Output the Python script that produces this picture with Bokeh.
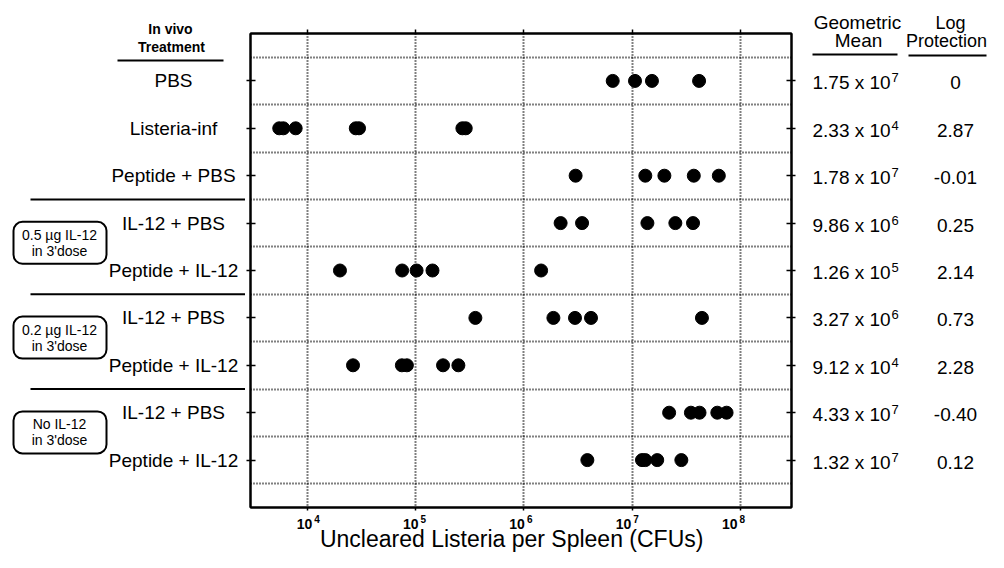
from bokeh.plotting import figure
from bokeh.models import (Range1d, FixedTicker, LinearAxis, LogAxis,
                          BoxAnnotation, ColumnDataSource)
from bokeh.layouts import row, column
from bokeh.core.properties import value
from bokeh.embed import file_html
from bokeh.resources import INLINE

# ---------------- data ----------------
treatments = ["PBS", "Listeria-inf", "Peptide + PBS",
              "IL-12 + PBS", "Peptide + IL-12",
              "IL-12 + PBS", "Peptide + IL-12",
              "IL-12 + PBS", "Peptide + IL-12"]

cfu_pbs = [6.6e6, 1.06e7, 1.52e7, 4.14e7]
cfu_listeria_inf = [5.5e3, 6.0e3, 7.8e3, 2.8e4, 3.0e4, 2.7e5, 2.9e5]
cfu_peptide_pbs = [3.0e6, 1.32e7, 1.98e7, 3.7e7, 6.3e7]
cfu_il12_pbs_05 = [2.18e6, 3.44e6, 1.38e7, 2.5e7, 3.64e7]
cfu_peptide_il12_05 = [2.0e4, 7.5e4, 1.02e5, 1.43e5, 1.44e6]
cfu_il12_pbs_02 = [3.56e5, 1.87e6, 2.96e6, 4.16e6, 4.4e7]
cfu_peptide_il12_02 = [2.64e4, 7.46e4, 8.3e4, 1.79e5, 2.48e5]
cfu_il12_pbs_no = [2.19e7, 3.48e7, 4.18e7, 6.1e7, 7.43e7]
cfu_peptide_il12_no = [3.85e6, 1.23e7, 1.32e7, 1.7e7, 2.84e7]

series = [cfu_pbs, cfu_listeria_inf, cfu_peptide_pbs,
          cfu_il12_pbs_05, cfu_peptide_il12_05,
          cfu_il12_pbs_02, cfu_peptide_il12_02,
          cfu_il12_pbs_no, cfu_peptide_il12_no]

geo_mantissa = ["1.75", "2.33", "1.78", "9.86", "1.26", "3.27", "9.12", "4.33", "1.32"]
geo_exponent = ["7", "4", "7", "6", "5", "6", "4", "7", "7"]
log_protection = ["0", "2.87", "-0.01", "0.25", "2.14", "0.73", "2.28", "-0.40", "0.12"]

group_box_line1 = ["0.5 µg IL-12", "0.2 µg IL-12", "No IL-12"]
group_box_line2 = ["in 3'dose", "in 3'dose", "in 3'dose"]
group_first_row = [4, 6, 8]

x_ticks = [1e4, 1e5, 1e6, 1e7, 1e8]
x_tick_exponents = ["4", "5", "6", "7", "8"]
x_title = "Uncleared Listeria per Spleen (CFUs)"
left_header = ["In vivo", "Treatment"]
mean_header = ["Geometric", "Mean"]
prot_header = ["Log", "Protection"]

# ---------------- layout (canvas pixels) ----------------
W, H = 988, 552
FL, FR, FT, FB = 250, 791, 33, 507      # plot frame
BL, BR, BB = 5, 5, 5                    # main plot borders (axis ticks)
LW = FL - BL                            # left panel width
RX = FR + BR                            # right panel start
DEC = 108.3
XL = 3.475
XR = XL + (FR - FL) / DEC
ROW = (FB - FT) / 10.0
FONT = "Liberation Sans"


def dx(cx):
    return 10 ** (XL + (cx - FL) / DEC)


def dy(cy):
    return (cy - FT) / ROW


rows = list(range(1, len(treatments) + 1))

# ---------------- main plot ----------------
xs, ys = [], []
for i, vals in enumerate(series):
    xs.extend(vals)
    ys.extend([rows[i]] * len(vals))
src = ColumnDataSource(dict(x=xs, y=ys))

p = figure(width=RX - LW, height=FB + BB, x_axis_type="log",
           x_range=Range1d(10 ** XL, 10 ** XR), y_range=Range1d(10, 0),
           output_backend="svg", toolbar_location=None,
           min_border_left=BL, min_border_right=BR,
           min_border_top=FT, min_border_bottom=BB)
p.background_fill_color = "white"
p.border_fill_color = "white"
p.outline_line_color = "black"
p.outline_line_width = 2


def style_axis(ax, tin, tout):
    ax.axis_line_color = "black"
    ax.axis_line_width = 2
    ax.major_tick_line_color = "black"
    ax.major_tick_line_width = 1.5
    ax.major_tick_in = tin
    ax.major_tick_out = tout
    ax.minor_tick_line_color = None
    ax.major_label_text_font_size = "1px"
    ax.major_label_text_color = None
    ax.major_label_standoff = 0


p.xaxis.ticker = FixedTicker(ticks=x_ticks)
style_axis(p.xaxis[0], 0, 3)
p.yaxis.ticker = FixedTicker(ticks=rows)
style_axis(p.yaxis[0], 5, 4)
right_ax = LinearAxis(ticker=FixedTicker(ticks=rows))
style_axis(right_ax, 5, 4)
p.add_layout(right_ax, "right")
top_ax = LogAxis(ticker=FixedTicker(ticks=x_ticks))
style_axis(top_ax, 0, 4)
p.add_layout(top_ax, "above")

for g in (p.xgrid, p.ygrid):
    g.grid_line_color = "black"
    g.grid_line_width = 2
    g.grid_line_dash = "1 2"
p.ygrid.ticker = FixedTicker(ticks=[r + 0.5 for r in range(0, 10)])

p.scatter("x", "y", source=src, size=13, color="black")


# ---------------- helper panels ----------------
def panel(x0, x1):
    f = figure(width=int(x1 - x0), height=H, x_range=Range1d(x0, x1),
               y_range=Range1d(dy(H), dy(0)), output_backend="svg",
               toolbar_location=None, x_axis_location=None,
               y_axis_location=None, min_border=0)
    f.outline_line_color = None
    f.grid.visible = False
    f.background_fill_color = "white"
    f.border_fill_color = "white"
    return f


def txt(f, x, y, t, size, align="center", bold=False):
    f.text(x=x, y=y, text=t, text_font=value(FONT),
           text_font_size=value(f"{size}px"), text_align=align,
           text_baseline="middle", text_color="black",
           text_font_style="bold" if bold else "normal")


def seg(f, x0, x1, y, w=2):
    f.segment(x0=[x0], y0=[y], x1=[x1], y1=[y], line_width=w,
              line_color="black")


# left panel
left = panel(0, LW)
txt(left, [170, 171], [dy(28), dy(46)], left_header, 14, bold=True)
seg(left, 117, 223, dy(60))
txt(left, [173] * len(rows), rows, treatments, 19)
for g, l1, l2 in zip(group_first_row, group_box_line1, group_box_line2):
    seg(left, 30, LW, g - 0.5)
    yc = FT + (g + 0.5) * ROW - 4
    left.add_layout(BoxAnnotation(left=13, right=106,
                                  top=dy(yc - 21), bottom=dy(yc + 21),
                                  fill_alpha=0, line_color="black",
                                  line_alpha=1, line_width=2,
                                  border_radius=9))
    txt(left, [59, 59], [dy(yc - 8), dy(yc + 8)], [l1, l2], 14)

# right panel
right = panel(RX, W)
txt(right, [857, 858], [dy(22), dy(40)], mean_header, 19)
seg(right, 812, 897, dy(54))
txt(right, [950, 946], [dy(22), dy(40)], prot_header, 18)
seg(right, 908, 986, dy(55))
txt(right, [812] * len(rows), [r + 2 / ROW for r in rows],
    [m + " x 10" for m in geo_mantissa], 19, align="left")
txt(right, [891] * len(rows), [r - 3 / ROW for r in rows],
    geo_exponent, 13, align="left")
txt(right, [955] * len(rows), [r + 2 / ROW for r in rows],
    log_protection, 19)

# bottom panel (tick labels and axis title on the same log scale)
BT = FB + BB
bottom = figure(width=RX - LW, height=H - BT, x_axis_type="log",
                x_range=Range1d(dx(LW), dx(RX)), y_range=Range1d(H, BT),
                output_backend="svg", toolbar_location=None,
                x_axis_location=None, y_axis_location=None, min_border=0)
bottom.outline_line_color = None
bottom.grid.visible = False
bottom.background_fill_color = "white"
bottom.border_fill_color = "white"
bottom.text(x=x_ticks, y=[523] * len(x_ticks), text=["10"] * len(x_ticks),
            x_offset=1, text_font=value(FONT), text_font_size=value("14px"),
            text_font_style="bold", text_align="right",
            text_baseline="middle", text_color="black")
bottom.text(x=x_ticks, y=[518.5] * len(x_ticks), text=x_tick_exponents,
            x_offset=3, text_font=value(FONT), text_font_size=value("10px"),
            text_font_style="bold", text_align="left",
            text_baseline="middle", text_color="black")
txt(bottom, [dx(511)], [538.5], [x_title], 23)

layout = row(left, column(p, bottom), right)
open("out.html", "w").write(file_html(layout, INLINE))
